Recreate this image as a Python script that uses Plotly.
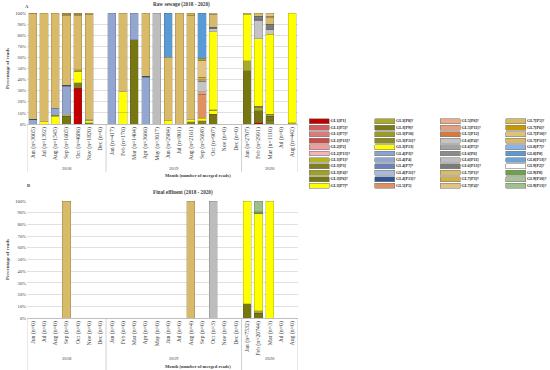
import plotly.graph_objects as go

# ---------------- categories ----------------
years = ["2018"] * 7 + ["2019"] * 12 + ["2020"] * 5
months_raw = ["Jun (n=3005)", "Jul (n=1392)", "Aug (n=1545)", "Sep (n=1605)", "Oct (n=4086)", "Nov (n=1820)", "Dec (n=0)",
              "Jan (n=417)", "Feb (n=176)", "Mar (n=1404)", "Apr (n=3666)", "May (n=3017)", "Jun (n=2984)", "Jul (n=801)",
              "Aug (n=2161)", "Sep (n=5698)", "Oct (n=907)", "Nov (n=0)", "Dec (n=0)",
              "Jan (n=2707)", "Feb (n=2991)", "Mar (n=1110)", "Jul (n=0)", "Aug (n=442)"]
months_eff = ["Jun (n=0)", "Jul (n=0)", "Aug (n=0)", "Sep (n=9)", "Oct (n=0)", "Nov (n=0)", "Dec (n=0)",
              "Jan (n=0)", "Feb (n=0)", "Mar (n=0)", "Apr (n=0)", "May (n=0)", "Jun (n=0)", "Jul (n=0)",
              "Aug (n=4)", "Sep (n=0)", "Oct (n=3)", "Nov (n=0)", "Dec (n=0)",
              "Jan (n=7532)", "Feb (n=20744)", "Mar (n=3)", "Jul (n=0)", "Aug (n=0)"]

# ---------------- series (legend order) ----------------
series_names = ["GL1[P1]", "GL1[P5]?", "GL1[P7]?", "GL1[P13]?", "GL2[P2]", "GL2[P13]?", "GL3[P1]?", "GL3[P3]",
                "GL3[P4]?", "GL3[P6]?", "GL3[P7]*",
                "GL3[P8]?", "GL3[P9]?", "GL3[P10]", "GL3[P11]?", "GL3[P13]", "GL4[P3]?", "GL4[P4]", "GL4[P7]*",
                "GL4[P11]?", "GL4[P13]?", "GL5[P5]",
                "GL5[P6]?", "GL5[P11]?", "GL5[P12]", "GL6[P4]?", "GL6[P5]?", "GL6[P6]", "GL6[P11]", "GL6[P13]?",
                "GL7[P1]?", "GL7[P3]?", "GL7[P4]?",
                "GL7[P5]?", "GL7[P6]?", "GL7[P10]?", "GL7[P11]?", "GL8[P7]?", "GL8[P8]", "GL8[P13]?", "GL9[P2]?",
                "GL9[P8]", "GL9[P10]?", "GL9[P13]?"]
series_colors = ["#C00000", "#D55C5C", "#DA7A7A", "#D04848", "#F29C9C", "#F5B4BC", "#B5B51E", "#7F7F1F",
                 "#A0A020", "#777712", "#FFFF00",
                 "#A9A92A", "#7A7A18", "#9B9B26", "#8D8D1E", "#FFFF00", "#8DA3CF", "#92A6CF", "#6A82BA",
                 "#AABAD9", "#2F5597", "#DF9162",
                 "#EBAA8A", "#E2A07E", "#D7793A", "#C4C4C4", "#A3A3A3", "#8C8C8C", "#BDBDBD", "#7B7B7B",
                 "#D9BA68", "#D6AF44", "#E1C384",
                 "#D9BA62", "#C99700", "#DFC277", "#D8B96B", "#8DB4E2", "#5B9BD5", "#6CA3DA", "#FFFFFF",
                 "#70A04C", "#A9C29A", "#9EC08E"]

# ---------------- panel A: raw sewage (% of reads) ----------------
raw_GL1_P1 = [0, 0, 0, 0, 32, 0, 0, 0, 0, 0, 0, 0, 0, 0, 0, 0, 0, 0, 0, 0, 1, 0, 0, 0]
raw_GL3_P3 = [0, 0, 0, 0, 5, 1, 0, 0, 0, 0, 0, 0, 0, 0, 2, 3, 0, 0, 0, 0, 0, 3, 0, 0]
raw_GL3_P6 = [0, 0, 0, 7, 0, 0, 0, 0, 0, 76, 0, 0, 0, 0, 0, 0, 9, 0, 0, 48, 11, 4, 0, 0]
raw_GL3_P7 = [0, 2, 7, 1, 10, 2, 0, 0, 10, 0, 0, 0, 3, 0, 2, 2, 3, 0, 0, 0, 0, 0, 0, 0]
raw_GL3_P8 = [0, 0, 1, 0, 2, 0, 0, 0, 0, 0, 0, 0, 0, 0, 0, 0, 1, 0, 0, 9, 3, 2, 0, 1]
raw_GL3_P10 = [0, 0, 0, 0, 0, 0, 0, 0, 0, 0, 0, 0, 0, 0, 0, 0, 0, 0, 0, 0, 1, 0, 0, 0]
raw_GL3_P13 = [0, 0, 0, 0, 0, 0, 0, 0, 19, 0, 0, 0, 0, 0, 0, 0, 70, 0, 0, 42, 61, 72, 0, 99]
raw_GL4_P4 = [4, 0, 6, 26, 0, 1, 0, 100, 0, 24, 42, 0, 0, 0, 0, 0, 0, 0, 0, 0, 0, 0, 0, 0]
raw_GL4_P13 = [0.5, 0, 0, 1, 0, 0, 0, 0, 0, 0, 1, 0, 0, 0, 0, 0, 0, 0, 0, 0, 0, 0, 0, 0]
raw_GL5_P5 = [0, 0, 0, 0, 0, 0, 0, 0, 0, 0, 0, 0, 0, 0, 0, 22, 0, 0, 0, 0, 0, 0, 0, 0]
raw_GL5_P11 = [0, 0, 0, 0, 0, 0, 0, 0, 0, 0, 0, 0, 0, 0, 0, 2, 0, 0, 0, 0, 0, 0, 0, 0]
raw_GL6_P4 = [0, 0, 0, 0, 0, 0, 0, 0, 0, 0, 0, 0, 0, 0, 0, 9, 3, 0, 0, 0, 16, 4, 0, 0]
raw_GL6_P6 = [0, 0, 0, 0, 0, 0, 0, 0, 0, 0, 0, 0, 0, 0, 0, 1, 0, 0, 0, 0, 1, 0, 0, 0]
raw_GL6_P11 = [0, 0, 0, 0, 0, 0, 0, 0, 0, 0, 0, 100, 0, 0, 0, 0, 0, 0, 0, 0, 0, 0, 0, 0]
raw_GL6_P13 = [0, 0, 0, 0, 0, 0, 0, 0, 0, 0, 0, 0, 0, 0, 0, 0, 1, 0, 0, 0, 3, 5, 0, 0]
raw_GL7_P1 = [95, 98, 86, 63, 49, 95, 0, 0, 71, 0, 57, 0, 57, 100, 94, 1, 12, 0, 0, 1, 3, 6, 0, 0]
raw_GL7_P3 = [0.5, 0, 0, 1, 1, 1, 0, 0, 0, 0, 0, 0, 0, 0, 2, 2, 0, 0, 0, 0, 0, 1, 0, 0]
raw_GL7_P4 = [0, 0, 0, 0, 0, 0, 0, 0, 0, 0, 0, 0, 0, 0, 0, 15, 1, 0, 0, 0, 0, 3, 0, 0]
raw_GL7_P6 = [0, 0, 0, 1, 1, 0, 0, 0, 0, 0, 0, 0, 0, 0, 0, 2, 0, 0, 0, 0, 0, 0, 0, 0]
raw_GL8_P8 = [0, 0, 0, 0, 0, 0, 0, 0, 0, 0, 0, 0, 40, 0, 0, 41, 0, 0, 0, 0, 0, 0, 0, 0]

# ---------------- panel B: final effluent (% of reads) ----------------
eff_GL3_P6 = [0, 0, 0, 0, 0, 0, 0, 0, 0, 0, 0, 0, 0, 0, 0, 0, 0, 0, 0, 12, 4, 0, 0, 0]
eff_GL3_P8 = [0, 0, 0, 0, 0, 0, 0, 0, 0, 0, 0, 0, 0, 0, 0, 0, 0, 0, 0, 0, 2, 0, 0, 0]
eff_GL3_P13 = [0, 0, 0, 0, 0, 0, 0, 0, 0, 0, 0, 0, 0, 0, 0, 0, 0, 0, 0, 88, 83, 100, 0, 0]
eff_GL6_P11 = [0, 0, 0, 0, 0, 0, 0, 0, 0, 0, 0, 0, 0, 0, 0, 0, 100, 0, 0, 0, 0, 0, 0, 0]
eff_GL7_P1 = [0, 0, 0, 100, 0, 0, 0, 0, 0, 0, 0, 0, 0, 0, 100, 0, 0, 0, 0, 0, 0, 0, 0, 0]
eff_GL9_P8 = [0, 0, 0, 0, 0, 0, 0, 0, 0, 0, 0, 0, 0, 0, 0, 0, 0, 0, 0, 0, 2, 0, 0, 0]
eff_GL9_P13 = [0, 0, 0, 0, 0, 0, 0, 0, 0, 0, 0, 0, 0, 0, 0, 0, 0, 0, 0, 0, 9, 0, 0, 0]

raw_series = [("GL1[P1]", raw_GL1_P1), ("GL3[P3]", raw_GL3_P3), ("GL3[P6]?", raw_GL3_P6),
              ("GL3[P7]*", raw_GL3_P7), ("GL3[P8]?", raw_GL3_P8), ("GL3[P10]", raw_GL3_P10),
              ("GL3[P13]", raw_GL3_P13), ("GL4[P4]", raw_GL4_P4), ("GL4[P13]?", raw_GL4_P13),
              ("GL5[P5]", raw_GL5_P5), ("GL5[P11]?", raw_GL5_P11), ("GL6[P4]?", raw_GL6_P4),
              ("GL6[P6]", raw_GL6_P6), ("GL6[P11]", raw_GL6_P11), ("GL6[P13]?", raw_GL6_P13),
              ("GL7[P1]?", raw_GL7_P1), ("GL7[P3]?", raw_GL7_P3), ("GL7[P4]?", raw_GL7_P4),
              ("GL7[P6]?", raw_GL7_P6), ("GL8[P8]", raw_GL8_P8)]
eff_series = [("GL3[P6]?", eff_GL3_P6), ("GL3[P8]?", eff_GL3_P8), ("GL3[P13]", eff_GL3_P13),
              ("GL6[P11]", eff_GL6_P11), ("GL7[P1]?", eff_GL7_P1), ("GL9[P8]", eff_GL9_P8),
              ("GL9[P13]?", eff_GL9_P13)]

W, H = 550, 370
FONT = "Liberation Serif"
TXT = "#404040"
GRID = "#bfbfbf"
color_of = dict(zip(series_names, series_colors))
edge = dict(color="rgba(70,70,70,0.55)", width=0.4)
year_list = sorted(set(years))


def unique_labels(labels):
    # invisible zero-width marks keep repeated month labels distinct per year (keeps axis order)
    return [lab + "\u200b" * year_list.index(y) for y, lab in zip(years, labels)]


def nz(vals):
    return [v if v else None for v in vals]


def px_x(p):
    return p / W


def px_y(p):
    return 1 - p / H


cat_raw = unique_labels(months_raw)
cat_eff = unique_labels(months_eff)

fig = go.Figure()
for name, vals in sorted(raw_series, key=lambda s: series_names.index(s[0])):
    fig.add_trace(go.Bar(x=cat_raw, y=nz(vals), name=name, marker=dict(color=color_of[name], line=edge),
                         xaxis="x", yaxis="y", showlegend=False))
for name, vals in sorted(eff_series, key=lambda s: series_names.index(s[0])):
    fig.add_trace(go.Bar(x=cat_eff, y=nz(vals), name=name, marker=dict(color=color_of[name], line=edge),
                         xaxis="x2", yaxis="y2", showlegend=False))

# ---------------- custom legend grid (4 columns x 11 rows) ----------------
n_rows = 11
leg_cols = [i // n_rows for i in range(len(series_names))]
leg_rows = [i % n_rows for i in range(len(series_names))]
sw_w = 0.31
col_px = 65.5
fig.add_trace(go.Bar(orientation="h", y=leg_rows, x=[sw_w] * len(series_names), base=leg_cols, width=0.76,
                     marker=dict(color=series_colors, line=dict(color="#7f7f7f", width=0.6)),
                     xaxis="x3", yaxis="y3", showlegend=False, hoverinfo="skip"))
fig.add_trace(go.Scatter(x=[c + sw_w + 0.02 for c in leg_cols], y=leg_rows, mode="text",
                         text=["<b>%s</b>" % s for s in series_names], textposition="middle right",
                         textfont=dict(family=FONT, size=4.1, color="#262626"), cliponaxis=False,
                         xaxis="x3", yaxis="y3", showlegend=False, hoverinfo="skip"))

# ---------------- year groups: dividers + labels (derived from the category list) ----------------
groups = []
for y in year_list:
    idx = [i for i, yy in enumerate(years) if yy == y]
    groups.append((y, idx[0], idx[-1]))
bounds = [g[1] - 0.5 for g in groups] + [groups[-1][2] + 0.5]

shapes = []
annotations = []
panels = [("x", 124, 172, 168, 175, "Raw sewage (2018 - 2020)", "A", 5, 23, 6),
          ("x2", 318, 370, 358, 366, "Final effluent (2018 - 2020)", "B", 192, 25, 185)]
for xref, axis_px, div_end, year_px, title_px, title, letter, t_px, l_x, l_y in panels:
    for b in bounds:
        shapes.append(dict(type="line", xref=xref, yref="paper", x0=b, x1=b, y0=px_y(axis_px), y1=px_y(div_end),
                           line=dict(color=GRID, width=0.7)))
    for y, i0, i1 in groups:
        annotations.append(dict(text=y, x=(i0 + i1) / 2, y=px_y(year_px), xref=xref, yref="paper",
                                yanchor="middle", showarrow=False, font=dict(family=FONT, size=4.7, color=TXT)))
    annotations.append(dict(text="<b>Month (number of merged reads)</b>", x=px_x((27 + 298) / 2), y=px_y(title_px),
                            xref="paper", yref="paper", yanchor="middle", showarrow=False,
                            font=dict(family=FONT, size=4.6, color=TXT)))
    annotations.append(dict(text="<b>%s</b>" % title, x=px_x(151), y=px_y(t_px), xref="paper", yref="paper",
                            yanchor="middle", showarrow=False, font=dict(family=FONT, size=5.2, color=TXT)))
    annotations.append(dict(text="<b>%s</b>" % letter, x=px_x(l_x), y=px_y(l_y), xref="paper", yref="paper",
                            yanchor="middle", showarrow=False, font=dict(family=FONT, size=4.6, color=TXT)))

xcommon = dict(type="category", tickangle=-90, showline=True, linecolor=GRID, linewidth=0.7, ticks="",
               automargin=False, range=[-0.5, len(years) - 0.5],
               tickfont=dict(family=FONT, size=5.8, color=TXT))
ycommon = dict(range=[0, 100], dtick=10, ticksuffix="%", showgrid=True, gridcolor="#e0e0e0", gridwidth=0.6,
               zeroline=False, showline=False, automargin=False, tickfont=dict(family=FONT, size=4.6, color=TXT),
               title=dict(text="<b>Percentage of reads</b>", font=dict(family=FONT, size=4.9, color=TXT),
                          standoff=5))

fig.update_layout(
    width=W, height=H, margin=dict(l=0, r=0, t=0, b=0, autoexpand=False),
    barmode="stack", bargap=0.28, plot_bgcolor="white", paper_bgcolor="white", showlegend=False,
    font=dict(family=FONT, size=5, color=TXT),
    xaxis=dict(domain=[px_x(27), px_x(298)], anchor="y", **xcommon),
    yaxis=dict(domain=[px_y(124), px_y(13)], anchor="x", **ycommon),
    xaxis2=dict(domain=[px_x(27), px_x(298)], anchor="y2", **xcommon),
    yaxis2=dict(domain=[px_y(318), px_y(201)], anchor="x2", **ycommon),
    xaxis3=dict(domain=[px_x(309), 1], range=[0, (W - 309) / col_px], visible=False, anchor="y3"),
    yaxis3=dict(domain=[px_y(189), px_y(118)], range=[10.5, -0.5], visible=False, anchor="x3"),
    shapes=shapes,
    annotations=annotations,
)

fig.write_html("out.html", config={"displayModeBar": False}, post_script="document.body.style.margin='0';")
